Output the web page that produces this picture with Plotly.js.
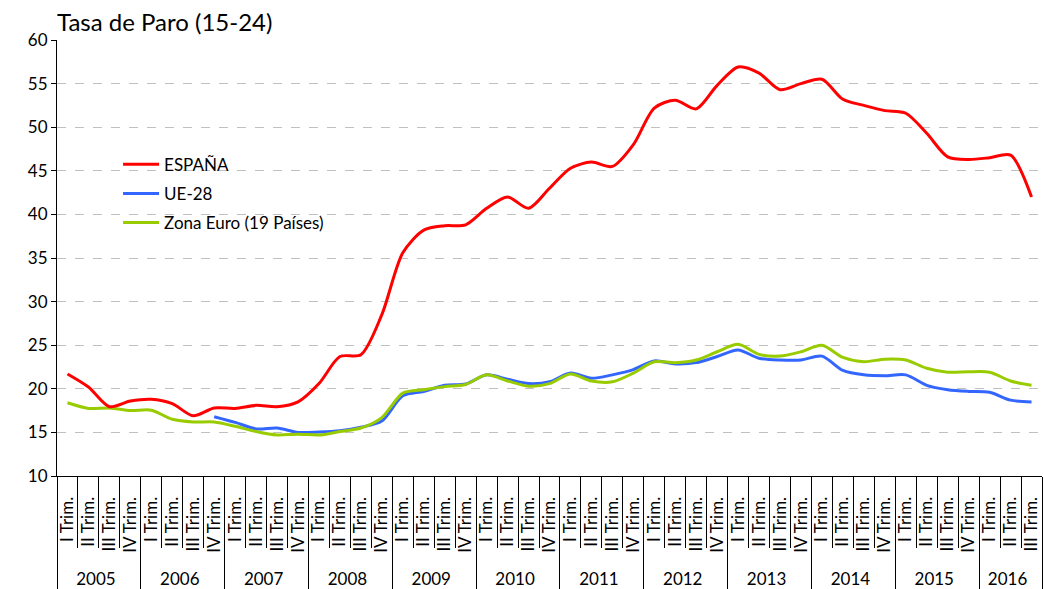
<!DOCTYPE html>
<html>
<head>
<meta charset="utf-8">
<script src="https://cdn.plot.ly/plotly-3.0.1.min.js"></script>
<style>html,body{margin:0;padding:0;background:#fff}#chart{width:1044px;height:589px}</style>
</head>
<body>
<div id="chart"></div>
<script>
const years = ['2005','2006','2007','2008','2009','2010','2011','2012','2013','2014','2015','2016'];
const quarters = ['I Trim.','II Trim.','III Trim.','IV Trim.'];

const espana = [
  21.7, 20.2, 17.95, 18.6,
  18.8, 18.3, 16.9, 17.8,
  17.75, 18.1, 17.95, 18.5,
  20.6, 23.7, 23.9, 28.5,
  35.6, 38.2, 38.7, 38.8,
  40.7, 42.0, 40.7, 43.0,
  45.3, 46.0, 45.5, 48.0,
  52.2, 53.1, 52.1, 54.8,
  56.9, 56.2, 54.3, 55.0,
  55.5, 53.2, 52.5, 51.9,
  51.6, 49.3, 46.6, 46.3,
  46.5, 46.8, 42.0
];
const ue28 = [
  null, null, null, null,
  null, null, null, 16.8,
  16.15, 15.4, 15.5, 15.0,
  15.05, 15.2, 15.6, 16.3,
  19.2, 19.7, 20.4, 20.55,
  21.6, 21.1, 20.6, 20.8,
  21.8, 21.2, 21.6, 22.2,
  23.2, 22.85, 23.0, 23.7,
  24.45, 23.5, 23.3, 23.3,
  23.75, 22.1, 21.6, 21.5,
  21.6, 20.4, 19.9, 19.7,
  19.6, 18.7, 18.5
];
const zonaEuro = [
  18.4, 17.75, 17.8, 17.5,
  17.55, 16.5, 16.2, 16.2,
  15.7, 15.1, 14.7, 14.8,
  14.7, 15.1, 15.5, 16.7,
  19.5, 19.9, 20.25, 20.5,
  21.6, 20.9, 20.3, 20.6,
  21.7, 20.9, 20.8, 21.8,
  23.1, 23.0, 23.3, 24.25,
  25.1, 23.95, 23.75, 24.25,
  25.0, 23.6, 23.1, 23.4,
  23.3, 22.35, 21.9, 21.95,
  21.9, 20.9, 20.4
];
const seriesNames = ['ESPAÑA','UE-28','Zona Euro (19 Países)'];
const colors = ['#ff0000','#3366ff','#99cc00'];

// rotated labels: trailing no-break spaces keep the text off the axis line
const pad = '\u00a0\u00a0\u00a0';
const xYear = [], xQ = [];
for (let i = 0; i < espana.length; i++) {
  xYear.push(years[Math.floor(i / 4)]);
  xQ.push(quarters[i % 4] + pad);
}
const xcat = [xYear, xQ];

const font = 'Lato, "Open Sans", sans-serif';
const data = [espana, ue28, zonaEuro].map((vals, k) => ({
  type: 'scatter', mode: 'lines', name: seriesNames[k], legendgroup: 'g' + k,
  x: xcat, y: vals, connectgaps: false,
  line: {color: colors[k], width: 3, shape: 'spline', smoothing: 0.8}
}));
const ordered = [data[1], data[2], data[0]];
ordered[0].legendrank = 2; ordered[1].legendrank = 3; ordered[2].legendrank = 1;

const layout = {
  width: 1044, height: 589,
  margin: {l: 57, r: 2, t: 40, b: 113},
  paper_bgcolor: '#fff', plot_bgcolor: '#fff',
  font: {family: font, size: 17, color: '#000'},
  title: {text: 'Tasa de Paro (15-24)', x: 0, xref: 'paper', xanchor: 'left',
          y: 0.962, yref: 'container', yanchor: 'middle',
          font: {family: font, size: 24, color: '#000'}},
  showlegend: true,
  legend: {x: 0.062, y: 0.755, xanchor: 'left', yanchor: 'top',
           bgcolor: 'rgba(0,0,0,0)', font: {family: font, size: 17, color: '#000'},
           tracegroupgap: 4, traceorder: 'grouped', itemwidth: 36},
  xaxis: {type: 'multicategory', showline: true, linecolor: '#000', linewidth: 1,
          ticks: 'outside', ticklen: 71, tickcolor: '#000', tickwidth: 1,
          tickangle: -90, tickfont: {family: font, size: 17, color: '#000'},
          showdividers: true, dividercolor: '#000', dividerwidth: 1,
          showgrid: false, zeroline: false, range: [-0.5, 46.5], fixedrange: true},
  yaxis: {range: [10, 60], dtick: 5, showline: true, linecolor: '#000', linewidth: 1,
          ticks: 'outside', ticklen: 5, tickcolor: '#000',
          showgrid: true, gridcolor: '#c0c0c0', griddash: 'dash', gridwidth: 1,
          zeroline: false, tickfont: {family: font, size: 17, color: '#000'}}
};
Plotly.newPlot('chart', ordered, layout, {staticPlot: true});
</script>
</body>
</html>
